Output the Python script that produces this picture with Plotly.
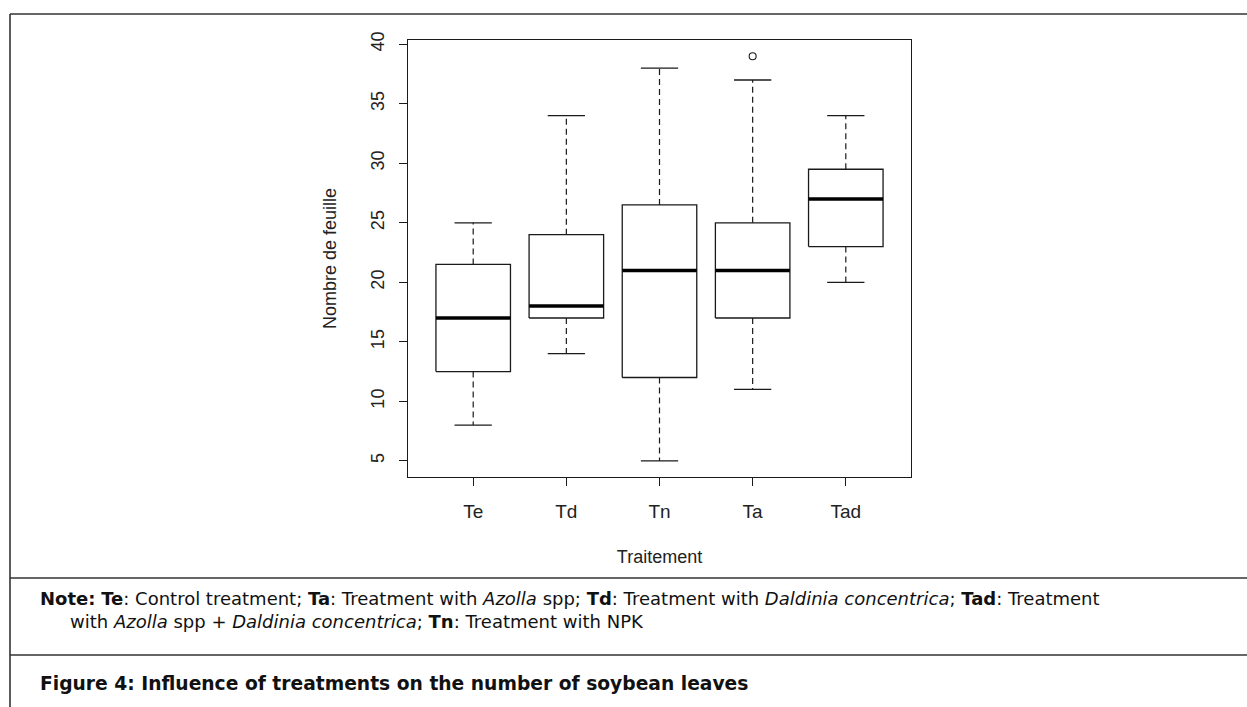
import plotly.graph_objects as go

categories = ["Te", "Td", "Tn", "Ta", "Tad"]
lower_whisker = [8, 14, 5, 11, 20]
q1 = [12.5, 17, 12, 17, 23]
median = [17, 18, 21, 21, 27]
q3 = [21.5, 24, 26.5, 25, 29.5]
upper_whisker = [25, 34, 38, 37, 34]
outlier_cat = ["Ta"]
outlier_val = [39]
y_ticks = [5, 10, 15, 20, 25, 30, 35, 40]

W, H = 1247, 707
L, R, T, B = 408, 911, 40, 477

def px(x):
    return (x - L) / (R - L)

def py(y):
    return (B - y) / (B - T)

fig = go.Figure()
ink = "#1a1a1a"
hw = 0.4
cap = 0.2
for i, c in enumerate(categories):
    x = i + 1
    fig.add_trace(go.Scatter(x=[x - hw, x + hw, x + hw, x - hw, x - hw],
                             y=[q1[i], q1[i], q3[i], q3[i], q1[i]],
                             mode="lines", line=dict(color=ink, width=1.3), hoverinfo="skip"))
    fig.add_trace(go.Scatter(x=[x - hw, x + hw], y=[median[i], median[i]],
                             mode="lines", line=dict(color="black", width=3.5), hoverinfo="skip"))
    fig.add_trace(go.Scatter(x=[x, x, None, x, x],
                             y=[q3[i], upper_whisker[i], None, q1[i], lower_whisker[i]],
                             mode="lines", line=dict(color=ink, width=1.2, dash="6px,4px"), hoverinfo="skip"))
    fig.add_trace(go.Scatter(x=[x - cap, x + cap, None, x - cap, x + cap],
                             y=[upper_whisker[i], upper_whisker[i], None, lower_whisker[i], lower_whisker[i]],
                             mode="lines", line=dict(color=ink, width=1.3), hoverinfo="skip"))

fig.add_trace(go.Scatter(x=[categories.index(c) + 1 for c in outlier_cat], y=outlier_val,
                         mode="markers",
                         marker=dict(symbol="circle-open", size=7, color=ink, line=dict(width=1.1)),
                         hoverinfo="skip"))

font = "Liberation Sans, Arial, sans-serif"
tfont = "DejaVu Sans, sans-serif"
fig.update_layout(
    width=W, height=H, showlegend=False,
    margin=dict(l=L, r=W - R, t=T, b=H - B, pad=0),
    paper_bgcolor="white", plot_bgcolor="white",
    font=dict(family=font, color="#222", size=18),
    xaxis=dict(range=[0.3, 5.7], tickvals=[1, 2, 3, 4, 5], ticktext=categories,
               showgrid=False, zeroline=False, showline=True, mirror=True,
               linecolor=ink, linewidth=1.3, ticks="outside", ticklen=8, tickcolor=ink,
               ticklabelstandoff=9,
               tickfont=dict(size=19), title=dict(text="Traitement", font=dict(size=18), standoff=29)),
    yaxis=dict(range=[3.64, 40.36], tickvals=y_ticks, showgrid=False, zeroline=False,
               showline=True, mirror=True, linecolor=ink, linewidth=1.3, ticks="outside",
               ticklen=8, tickcolor=ink, tickangle=-90, tickfont=dict(size=18),
               ticklabelstandoff=8,
               title=dict(text="Nombre de feuille", font=dict(size=18), standoff=26)),
)

# table frame lines
lc = "#333"
for y in [14, 578, 655]:
    fig.add_shape(type="line", xref="paper", yref="paper", x0=px(10), x1=px(1247),
                  y0=py(y), y1=py(y), line=dict(color=lc, width=1.6))
fig.add_shape(type="line", xref="paper", yref="paper", x0=px(10), x1=px(10),
              y0=py(14), y1=py(707), line=dict(color=lc, width=1.6))

note1 = ("<b>Note:</b> <b>Te</b>: Control treatment; <b>Ta</b>: Treatment with <i>Azolla</i> spp; "
         "<b>Td</b>: Treatment with <i>Daldinia concentrica</i>; <b>Tad</b>: Treatment")
note2 = "with <i>Azolla</i> spp + <i>Daldinia concentrica</i>; <b>Tn</b>: Treatment with NPK"
caption = "<b>Figure 4: Influence of treatments on the number of soybean leaves</b>"

for txt, x, y, sz in [(note1, 38, 598, 18), (note2, 68, 621, 18), (caption, 38, 683, 18.7)]:
    fig.add_annotation(text=txt, xref="paper", yref="paper", x=px(x), y=py(y),
                       xanchor="left", yanchor="middle", showarrow=False,
                       font=dict(family=tfont, size=sz, color="#111"))

fig.write_html("out.html")
